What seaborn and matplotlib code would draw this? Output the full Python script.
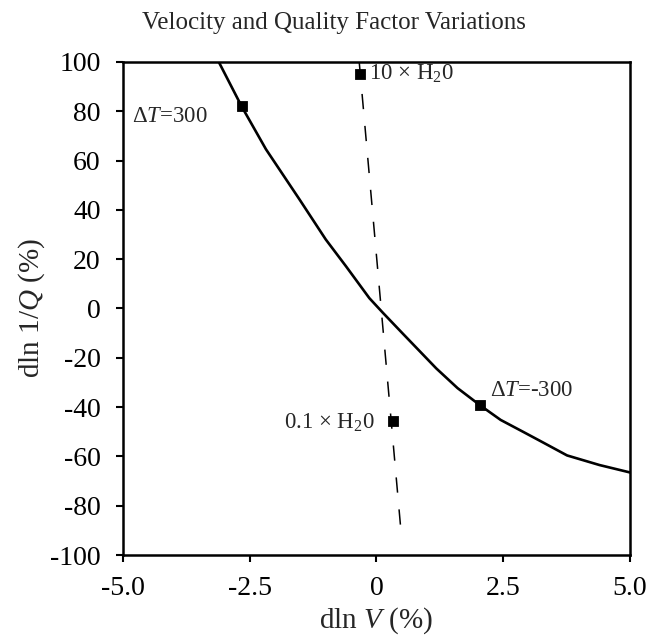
import matplotlib
matplotlib.use("Agg")
from matplotlib import pyplot as plt
import seaborn as sns

# temperature curve (dln V vs dln 1/Q)
temp_v = [-3.4, -3.11, -2.66, -2.18, -1.52, -1.0, -0.60, -0.14, 0.13, 0.52, 1.18, 1.6,
          2.04, 2.45, 2.90, 3.3, 3.76, 4.4, 5.0, 5.2]
temp_q = [110.6, 100, 82, 64.6, 44.3, 28.0, 17.1, 4.2, -1.8, -10.2, -24.3, -32.3,
          -39.2, -45.2, -50.1, -54.5, -59.6, -63.5, -66.5, -67.3]

# water content line
water_v = [-0.34, 0.50]
water_q = [100, -94]

# labelled points
mark_v = [-2.66, 2.04, -0.32, 0.32]
mark_q = [82, -39.2, 95.3, -45.6]

sns.set_style("ticks")
plt.rcParams['font.family'] = ['Liberation Serif', 'DejaVu Serif']
plt.rcParams['mathtext.fontset'] = 'custom'
plt.rcParams['mathtext.rm'] = 'Liberation Serif'
plt.rcParams['mathtext.it'] = 'Liberation Serif:italic'
plt.rcParams['axes.unicode_minus'] = False

fig = plt.figure(figsize=(6.67, 6.37), dpi=100)
ax = fig.add_axes([0.1844, 0.1287, 0.760, 0.774])

sns.lineplot(x=temp_v, y=temp_q, sort=False, estimator=None, color='black', lw=1.9, ax=ax)
sns.lineplot(x=water_v, y=water_q, sort=False, estimator=None, color='black', lw=1.1,
             linestyle=(0, (10, 11)), ax=ax)
sns.scatterplot(x=mark_v, y=mark_q, marker='s', s=55, color='black', edgecolor='black', ax=ax, zorder=5)

ax.set_xlim(-5, 5)
ax.set_ylim(-100, 100)
ax.set_xticks([-5, -2.5, 0, 2.5, 5])
ax.set_xticklabels(['-5.0', '-2.5', '0', '2.5', '5.0'])
ax.set_yticks(range(-100, 101, 20))
for s in ax.spines.values():
    s.set_visible(True)
    s.set_linewidth(1.8)
    s.set_color('black')
ax.tick_params(direction='out', length=5, width=1.5, labelsize=20, colors='black')
ax.tick_params(axis='x', pad=10)
ax.tick_params(axis='y', pad=11)

ax.text(-4.83, 77.8, r'$\Delta T$=300', fontsize=16.5, va='center', ha='left')
ax.text(2.24, -33.4, r'$\Delta T$=-300', fontsize=16.5, va='center', ha='left')
ax.text(-0.14, 95.3, r'10 $\times$ H$_2$0', fontsize=16.5, va='center', ha='left')
ax.text(-0.04, -46.4, r'0.1 $\times$ H$_2$0', fontsize=16.5, va='center', ha='right')

fig.suptitle('Velocity and Quality Factor Variations', fontsize=18, x=0.5, y=0.955, va='baseline')
ax.set_xlabel(r'dln $V$ (%)', fontsize=21, labelpad=3)
ax.set_ylabel(r'dln 1/$Q$ (%)', fontsize=21, labelpad=2)

fig.savefig('out.png', dpi=100)
